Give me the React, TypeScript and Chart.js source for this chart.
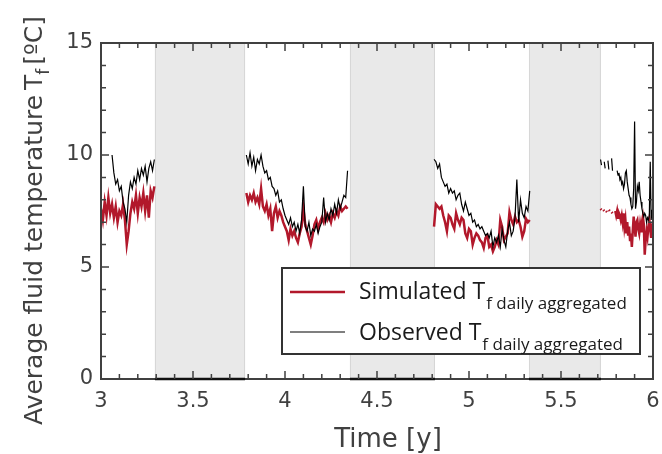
import React, { useEffect, useRef } from "react";
import { Chart, registerables } from "chart.js";

Chart.register(...registerables);

// ---- data ----
const segStarts = [3.0, 3.79, 4.81, 5.715];
const segSteps = [0.01, 0.01, 0.01, 0.005];

const simA = [7.6, 7.1, 7.9, 7.3, 8.1, 7.4, 7.8, 7.2, 7.7, 7.0, 7.5, 7.3, 7.8, 7.1, 6.0, 6.6, 7.4, 7.9, 7.6, 8.2, 7.4, 8.1, 7.7, 8.3, 7.5, 8.2, 7.2, 8.4, 8.1, 8.6];
const obsA = [null, null, null, null, null, null, 10.0, 9.2, 8.7, 8.9, 8.4, 8.6, 7.9, 7.6, 7.0, 8.2, 8.8, 8.5, 9.0, 8.7, 9.3, 8.9, 9.4, 9.1, 9.5, 8.8, 9.4, 9.7, 9.3, 9.8];

const simB = [8.3, 7.9, 8.2, 8.0, 8.3, 7.9, 8.1, 7.8, 8.5, 7.7, 7.5, 7.8, 7.3, 7.6, 6.6, 7.4, 7.7, 7.2, 7.5, 7.3, 7.0,
  6.8, 6.6, 6.2, 6.7, 6.4, 6.6, 6.3, 6.1, 6.5, 6.8,
  7.6, 6.9, 6.6, 6.3, 6.0, 6.4, 6.9, 7.1, 6.7, 7.0,
  7.2, 7.0, 7.4, 7.1, 7.3, 7.0, 7.4, 7.2, 7.5, 7.3,
  7.7, 7.5, 7.6, 7.7, 7.6];
const obsB = [10.0, 9.6, 10.1, 9.5, 9.9, 9.3, 9.8, 9.6, 10.0, 9.5, 9.2, 9.3, 8.9, 9.0, 8.6, 8.5, 8.2, 8.4, 7.9, 8.0, 7.6,
  7.3, 7.1, 6.9, 7.2, 6.8, 7.0, 6.6, 6.9, 6.5, 7.1,
  8.6, 6.8, 6.6, 7.0, 6.4, 6.7, 6.6, 6.9, 6.5, 6.8,
  7.0, 8.1, 7.0, 7.4, 7.1, 7.6, 7.3, 7.8, 7.4, 8.0,
  7.6, 7.9, 8.2, 8.1, 9.3];

const simC = [6.8, 7.8, 7.7, 7.6, 7.7, 7.3, 7.0, 6.6, 7.3, 7.2,
  6.9, 6.7, 7.4, 7.1, 6.9, 7.2, 7.1, 6.5, 6.3, 6.7,
  6.6, 6.0, 6.3, 6.5, 6.4, 6.2, 6.1, 5.85, 6.3, 6.4,
  5.9, 6.0, 5.7, 5.9, 6.2, 6.0, 7.1, 6.8, 6.2, 6.35,
  6.5, 7.45, 7.1, 6.9, 7.25, 7.0, 7.1, 6.8, 6.35, 6.6,
  7.15, 7.0, 7.1];
const obsC = [9.8, 9.7, 9.4, 9.6, 9.0, 8.8, 8.6, 8.7, 8.3, 8.5,
  8.3, 8.4, 8.0, 8.2, 8.3, 7.8, 7.5, 7.9, 7.6, 7.3,
  7.4, 7.0, 7.1, 6.8, 6.9, 6.7, 6.8, 6.6, 6.4, 6.5,
  6.3, 6.6, 5.9, 6.3, 6.1, 6.4, 5.9, 6.7, 6.2, 5.9,
  6.6, 7.0, 6.4, 6.6, 7.2, 8.9, 7.0, 8.0, 7.4, 7.2,
  7.7, 7.5, 8.4];

const simD = [7.6, 7.55, null, 7.55, 7.5, null, 7.5, 7.45, null, 7.55,
  7.5, null, 7.45, 7.4, null, null, 7.5, 7.3, 7.5, 7.2,
  7.4, 7.3, 7.1, 7.3, 7.0, 7.4, 6.8, 7.1, 6.5, 7.0,
  6.4, 6.8, 6.2, 6.5, 5.9, 6.6, 7.25, 6.8, 6.35, 7.0,
  7.1, 6.7, 6.5, 6.9, 6.6, 7.0, 7.25, 6.9, 5.55, 6.2,
  6.6, 6.35, 6.8, 7.1, 6.7, 6.3, 6.95, 6.6];
const obsD = [9.8, 9.55, null, null, 9.7, 9.4, null, null, 9.75, 9.35,
  null, null, 9.85, 9.3, null, null, null, null, 9.3, 9.1,
  9.2, 8.9, 9.0, 8.7, 8.8, 8.5, 8.7, 9.2, 9.3, 8.8,
  8.5, 8.2, 8.1, 7.8, 7.6, 7.7, 8.5, 11.5, 7.6, 7.9,
  8.6, 8.4, 8.8, 8.2, 7.9, 7.6, 7.4, 7.25, 7.4, 7.3,
  7.0, 7.2, 7.1, 7.3, 9.7, 7.1, 7.55, 7.1];

const shadedStart = [3.293, 4.353, 5.326];
const shadedEnd = [3.783, 4.815, 5.717];

const xMin = 3, xMax = 6, xStep = 0.5, xMinorStep = 0.1;
const yMin = 0, yMax = 15, yStep = 5, yMinorStep = 1;

const simLabel = "Simulated T";
const obsLabel = "Observed T";
const legendSub = "f daily aggregated";
const xTitle = "Time [y]";
const yTitleMain = "Average fluid temperature";
const yTitleT = "T";
const yTitleSub = "f";
const yTitleUnit = "[ºC]";

const RED = "#b2182b";
const AXIS = "#404040";

function build(segs: (number | null)[][]) {
  const pts: { x: number; y: number | null }[] = [];
  segs.forEach((vals, s) => {
    vals.forEach((v, i) => {
      pts.push({ x: +(segStarts[s] + i * segSteps[s]).toFixed(4), y: v });
    });
    if (s < segs.length - 1) {
      const last = segStarts[s] + (vals.length - 1) * segSteps[s];
      pts.push({ x: (last + segStarts[s + 1]) / 2, y: null });
    }
  });
  return pts;
}

const decor = {
  id: "decor",
  beforeDatasetsDraw(chart: any) {
    const { ctx, chartArea: a, scales } = chart;
    const xs = scales.x;
    ctx.save();
    for (let i = 0; i < shadedStart.length; i++) {
      const x0 = xs.getPixelForValue(shadedStart[i]);
      const x1 = xs.getPixelForValue(shadedEnd[i]);
      ctx.fillStyle = "#e9e9e9";
      ctx.fillRect(x0, a.top, x1 - x0, a.bottom - a.top);
      ctx.strokeStyle = "#d6d6d6";
      ctx.lineWidth = 1;
      ctx.beginPath();
      ctx.moveTo(x0 + 0.5, a.top);
      ctx.lineTo(x0 + 0.5, a.bottom);
      ctx.moveTo(x1 - 0.5, a.top);
      ctx.lineTo(x1 - 0.5, a.bottom);
      ctx.stroke();
    }
    ctx.restore();
  },
  afterDatasetsDraw(chart: any) {
    const { ctx, chartArea: a, scales } = chart;
    const xs = scales.x, ys = scales.y;
    ctx.save();
    // frame
    ctx.strokeStyle = AXIS;
    ctx.lineWidth = 2;
    ctx.strokeRect(a.left, a.top, a.right - a.left, a.bottom - a.top);
    // dark bottom edges of shaded patches
    ctx.strokeStyle = "#111";
    ctx.lineWidth = 2.5;
    for (let i = 0; i < shadedStart.length; i++) {
      const x0 = xs.getPixelForValue(shadedStart[i]);
      const x1 = xs.getPixelForValue(shadedEnd[i]);
      ctx.beginPath();
      ctx.moveTo(x0, a.bottom);
      ctx.lineTo(x1, a.bottom);
      ctx.stroke();
    }
    // ticks
    ctx.strokeStyle = AXIS;
    ctx.lineWidth = 1.5;
    ctx.beginPath();
    for (let v = yMin; v <= yMax + 1e-9; v += yMinorStep) {
      const y = ys.getPixelForValue(v);
      const len = Math.abs(v % yStep) < 1e-6 ? 8 : 5;
      ctx.moveTo(a.left, y);
      ctx.lineTo(a.left + len, y);
      ctx.moveTo(a.right, y);
      ctx.lineTo(a.right - len, y);
    }
    const n = Math.round((xMax - xMin) / xMinorStep);
    for (let k = 0; k <= n; k++) {
      const v = xMin + k * xMinorStep;
      const x = xs.getPixelForValue(v);
      const len = k % Math.round(xStep / xMinorStep) === 0 ? 8 : 5;
      ctx.moveTo(x, a.bottom);
      ctx.lineTo(x, a.bottom - len);
      ctx.moveTo(x, a.top);
      ctx.lineTo(x, a.top + len);
    }
    ctx.stroke();

    // x title
    ctx.fillStyle = AXIS;
    ctx.font = "26px 'DejaVu Sans'";
    ctx.textAlign = "center";
    ctx.textBaseline = "alphabetic";
    ctx.fillText(xTitle, 388, 447);

    // y title (rotated)
    ctx.save();
    ctx.translate(42, 425);
    ctx.rotate(-Math.PI / 2);
    ctx.textAlign = "left";
    ctx.font = "25px 'DejaVu Sans'";
    ctx.fillText(yTitleMain, 0, 0);
    let px = ctx.measureText(yTitleMain + " ").width - 3;
    ctx.fillText(yTitleT, px, 0);
    px += ctx.measureText(yTitleT).width;
    ctx.font = "17px 'DejaVu Sans'";
    ctx.fillText(yTitleSub, px, 7);
    px += ctx.measureText(yTitleSub).width + 4;
    ctx.font = "25px 'DejaVu Sans'";
    ctx.fillText(yTitleUnit, px, 0);
    ctx.restore();

    // legend
    const lx0 = 282, ly0 = 268, lx1 = 640, ly1 = 354;
    ctx.fillStyle = "#fff";
    ctx.fillRect(lx0, ly0, lx1 - lx0, ly1 - ly0);
    ctx.strokeStyle = "#333";
    ctx.lineWidth = 2;
    ctx.strokeRect(lx0, ly0, lx1 - lx0, ly1 - ly0);
    const rows = [
      { label: simLabel, color: RED, w: 2.5, y: 292, base: 299 },
      { label: obsLabel, color: "#000", w: 1.2, y: 332, base: 340 },
    ];
    rows.forEach((r) => {
      ctx.strokeStyle = r.color;
      ctx.lineWidth = r.w;
      ctx.beginPath();
      ctx.moveTo(290, r.y);
      ctx.lineTo(345, r.y);
      ctx.stroke();
      ctx.fillStyle = "#1a1a1a";
      ctx.textAlign = "left";
      ctx.font = "23px 'Open Sans'";
      ctx.fillText(r.label, 359, r.base);
      const w = ctx.measureText(r.label).width;
      ctx.font = "17px 'Open Sans'";
      ctx.fillText(legendSub, 359 + w + 1, r.base + 10);
    });
    ctx.restore();
  },
};

export default function App() {
  const ref = useRef<HTMLCanvasElement | null>(null);
  useEffect(() => {
    if (!ref.current) return;
    const chart = new Chart(ref.current, {
      type: "line",
      data: {
        datasets: [
          {
            label: obsLabel,
            data: build([obsA, obsB, obsC, obsD]) as any,
            borderColor: "#000",
            borderWidth: 1.2,
            pointRadius: 0,
            spanGaps: false,
            order: 0,
          },
          {
            label: simLabel,
            data: build([simA, simB, simC, simD]) as any,
            borderColor: RED,
            borderWidth: 2.5,
            pointRadius: 0,
            spanGaps: false,
            order: 1,
          },
        ],
      },
      options: {
        responsive: false,
        animation: false,
        layout: { padding: { left: 0, right: 9, top: 43, bottom: 0 } },
        plugins: { legend: { display: false }, tooltip: { enabled: false } },
        scales: {
          x: {
            type: "linear",
            min: xMin,
            max: xMax,
            grid: { display: false, drawTicks: false },
            border: { display: false },
            ticks: {
              stepSize: xStep,
              autoSkip: false,
              maxRotation: 0,
              padding: 10,
              color: AXIS,
              font: { family: "'DejaVu Sans'", size: 21 },
              callback: (v: any) => String(+(+v).toFixed(2)),
            },
            afterFit: (s: any) => { s.height = 75; s.paddingLeft = 0; s.paddingRight = 0; },
          },
          y: {
            min: yMin,
            max: yMax,
            grid: { display: false, drawTicks: false },
            border: { display: false },
            ticks: {
              stepSize: yStep,
              padding: 8,
              color: AXIS,
              font: { family: "'DejaVu Sans'", size: 21 },
            },
            afterFit: (s: any) => { s.width = 101; s.paddingTop = 0; s.paddingBottom = 0; },
          },
        },
      },
      plugins: [decor],
    });
    return () => chart.destroy();
  }, []);
  return (
    <div style={{ position: "fixed", left: 0, top: 0, width: 662, height: 454, background: "#fff" }}>
      <canvas ref={ref} width={662} height={454} style={{ width: 662, height: 454 }} />
    </div>
  );
}
